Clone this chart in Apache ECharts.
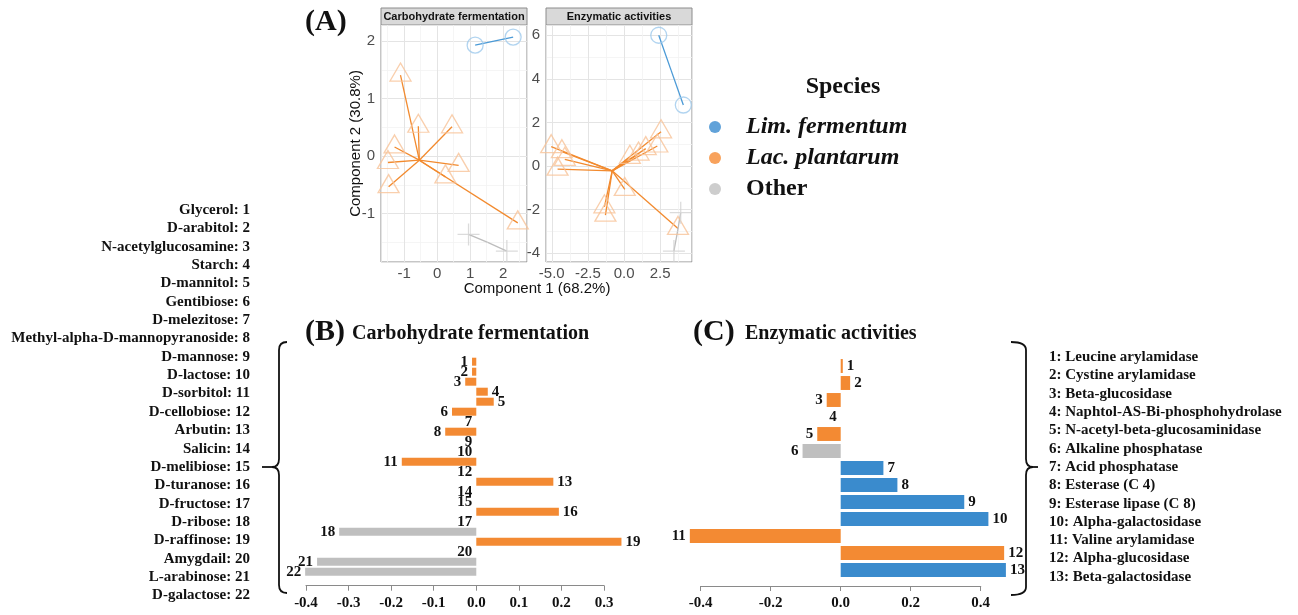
<!DOCTYPE html>
<html>
<head>
<meta charset="utf-8">
<script src="https://cdn.jsdelivr.net/npm/echarts@6/dist/echarts.min.js"></script>
<style>
  html, body { margin: 0; padding: 0; background: #fff; }
  #chart { width: 1298px; height: 615px; }
</style>
</head>
<body>
<div id="chart"></div>
<script>
const serif = "'Times New Roman', 'Liberation Serif', serif";
const sans = "Arial, 'Liberation Sans', sans-serif";

const speciesNames = ["Lim. fermentum", "Lac. plantarum", "Other"];
const barColors = { lim: "#3a8bcd", lac: "#f38a33", other: "#bfbfbf" };

// (A) ordination - carbohydrate fermentation
const carbLim = [[1.15, 1.93], [2.3, 2.07]];
const carbLac = [
  [-1.11, 1.41], [-0.57, 0.52], [0.45, 0.51], [-1.29, 0.16], [-1.49, -0.11],
  [0.65, -0.16], [0.25, -0.36], [-1.47, -0.53], [2.44, -1.16]
];
const carbOther = [[0.95, -1.36], [2.11, -1.65]];
const carbCentroids = [[1.72, 2.0], [-0.54, -0.07], [1.53, -1.5]];

// (A) ordination - enzymatic activities
const enzLim = [[2.4, 6.0], [4.1, 2.8]];
const enzLac = [
  [-5.04, 0.89], [-4.3, 0.66], [-4.1, 0.31], [-4.6, -0.14],
  [2.56, 1.57], [2.3, 0.92], [1.5, 0.8], [1.0, 0.55], [0.4, 0.4],
  [-1.36, -1.87], [-1.29, -2.25], [0.05, -1.07], [3.73, -2.86]
];
const enzOther = [[3.92, -2.14], [3.45, -3.9]];
const enzCentroids = [[3.25, 4.4], [-0.82, -0.22], [3.7, -3.0]];

// (B) carbohydrate fermentation loadings
const carbLabels = [
  "Glycerol", "D-arabitol", "N-acetylglucosamine", "Starch", "D-mannitol", "Gentibiose",
  "D-melezitose", "Methyl-alpha-D-mannopyranoside", "D-mannose", "D-lactose", "D-sorbitol",
  "D-cellobiose", "Arbutin", "Salicin", "D-melibiose", "D-turanose", "D-fructose", "D-ribose",
  "D-raffinose", "Amygdail", "L-arabinose", "D-galactose"
];
const carbValues = [
  -0.01, -0.01, -0.026, 0.027, 0.041, -0.057, 0, -0.073, 0, 0, -0.175,
  0, 0.181, 0, 0, 0.194, 0, -0.322, 0.341, 0, -0.374, -0.402
];
const carbGroup = [
  "lac", "lac", "lac", "lac", "lac", "lac", "lac", "lac", "lac", "lac", "lac",
  "lac", "lac", "lac", "lac", "lac", "lac", "other", "lac", "lac", "other", "other"
];

// (C) enzymatic activity loadings
const enzLabels = [
  "Leucine arylamidase", "Cystine arylamidase", "Beta-glucosidase",
  "Naphtol-AS-Bi-phosphohydrolase", "N-acetyl-beta-glucosaminidase", "Alkaline phosphatase",
  "Acid phosphatase", "Esterase (C 4)", "Esterase lipase (C 8)", "Alpha-galactosidase",
  "Valine arylamidase", "Alpha-glucosidase", "Beta-galactosidase"
];
const enzValues = [0.006, 0.027, -0.04, 0, -0.067, -0.109, 0.122, 0.162, 0.353, 0.422, -0.431, 0.467, 0.472];
const enzGroup = ["lac", "lac", "lac", "lac", "lac", "other", "lim", "lim", "lim", "lim", "lac", "lac", "lim"];

const pointStyles = [
  { symbol: "circle", symbolSize: 16, symbolOffset: [0, 0], itemStyle: { color: "transparent", borderColor: "#9dc9ec", borderWidth: 1.3 } },
  { symbol: "triangle", symbolSize: [21, 18], symbolOffset: [0, -3], itemStyle: { color: "transparent", borderColor: "#f8c398", borderWidth: 1.3 } },
  { symbol: "path://M0,10L20,10M10,0L10,20", symbolSize: 22, symbolOffset: [0, 0], itemStyle: { color: "transparent", borderColor: "#d2d2d2", borderWidth: 1.3 } }
];
const spokeColors = ["#4b9ad6", "#f28a2e", "#bdbdbd"];

function spokes(points, c) {
  return points.map((p) => ({ coords: [c, p] }));
}

const ordSeries = [];
[[carbLim, carbLac, carbOther, carbCentroids], [enzLim, enzLac, enzOther, enzCentroids]].forEach((panel, g) => {
  [0, 1, 2].forEach((s) => {
    ordSeries.push({
      type: "lines",
      coordinateSystem: "cartesian2d",
      xAxisIndex: g,
      yAxisIndex: g,
      silent: true,
      lineStyle: { color: spokeColors[s], width: 1.3, opacity: 1 },
      data: spokes(panel[s], panel[3][s])
    });
    ordSeries.push(Object.assign({
      type: "scatter",
      name: speciesNames[s],
      xAxisIndex: g,
      yAxisIndex: g,
      silent: true,
      data: panel[s]
    }, pointStyles[s]));
  });
});

function barData(values, groups) {
  return values.map((v, i) => ({
    value: v,
    itemStyle: { color: barColors[groups[i]] },
    label: { position: v > 0 ? "right" : "left" }
  }));
}

const barLabel = {
  show: true,
  distance: 4,
  formatter: (p) => String(p.dataIndex + 1),
  fontFamily: serif,
  fontWeight: "bold",
  fontSize: 15,
  color: "#111"
};

const gridLines = { lineStyle: { color: "#e4e4e4", width: 1 } };
const minorLines = { show: true, lineStyle: { color: "#f2f2f2", width: 0.8 } };
const ordLabel = { fontFamily: sans, fontSize: 15, color: "#4d4d4d", showMinLabel: false, showMaxLabel: false };

function ordAxis(g, min, max, step, extra) {
  return Object.assign({
    gridIndex: g,
    type: "value",
    min: min,
    max: max,
    minInterval: step,
    maxInterval: step,
    axisLine: { show: false },
    axisTick: { show: false },
    splitLine: gridLines,
    minorTick: { show: false, splitNumber: 2 },
    minorSplitLine: minorLines
  }, extra);
}

const barAxisStyle = {
  type: "value",
  axisLine: { show: true, lineStyle: { color: "#8a8a8a", width: 1.2 } },
  axisTick: { show: true, length: 5, lineStyle: { color: "#8a8a8a" } },
  splitLine: { show: false },
  axisLabel: { fontFamily: serif, fontWeight: "bold", fontSize: 15, color: "#111", margin: 10, formatter: (v) => v.toFixed(1) }
};

function txt(x, y, text, font, align) {
  return { type: "text", x: x, y: y, style: { text: text, font: font, fill: "#111", textAlign: align, textVerticalAlign: "middle", align: align, verticalAlign: "middle" } };
}
function seg(x1, y1, x2, y2) {
  return { type: "line", shape: { x1: x1, y1: y1, x2: x2, y2: y2 }, style: { stroke: "#111", lineWidth: 1.8 } };
}
function curve(x1, y1, cx, cy, x2, y2) {
  return { type: "bezierCurve", shape: { x1: x1, y1: y1, cpx1: cx, cpy1: cy, x2: x2, y2: y2 }, style: { fill: "none", stroke: "#111", lineWidth: 1.8 } };
}
// curly brace, vertical stem at x, pointing dir (-1 left, 1 right)
function brace(x, top, mid, bottom, dir, arm, tip) {
  return [
    curve(x - dir * arm, top, x, top, x, top + 8),
    seg(x, top + 8, x, mid - 8),
    curve(x, mid - 8, x, mid, x + dir * 7, mid),
    seg(x + dir * 7, mid, x + dir * tip, mid),
    curve(x, mid + 8, x, mid, x + dir * 7, mid),
    seg(x, mid + 8, x, bottom - 8),
    curve(x, bottom - 8, x, bottom, x - dir * arm, bottom)
  ];
}

const graphics = [
  txt(305, 22, "(A)", "bold 30px " + serif, "left"),
  { type: "rect", shape: { x: 381, y: 8, width: 146, height: 17 }, style: { fill: "#d9d9d9", stroke: "#8c8c8c", lineWidth: 1 } },
  txt(454, 16.5, "Carbohydrate fermentation", "bold 11px " + sans, "center"),
  { type: "rect", shape: { x: 546, y: 8, width: 146, height: 17 }, style: { fill: "#d9d9d9", stroke: "#8c8c8c", lineWidth: 1 } },
  txt(619, 16.5, "Enzymatic activities", "bold 11px " + sans, "center"),
  txt(537, 289, "Component 1 (68.2%)", "15px " + sans, "center"),
  txt(843, 87, "Species", "bold 24px " + serif, "center"),
  txt(305, 332, "(B)", "bold 30px " + serif, "left"),
  txt(352, 334, "Carbohydrate fermentation", "bold 20px " + serif, "left"),
  txt(693, 332, "(C)", "bold 30px " + serif, "left"),
  txt(745, 334, "Enzymatic activities", "bold 20px " + serif, "left")
].concat(brace(279, 342, 467, 593, -1, 8, 17), brace(1026, 342, 467, 595, 1, 15, 12));

carbLabels.forEach((name, i) => {
  graphics.push(txt(250, 210 + 18.36 * i, name + ": " + (i + 1), "bold 15px " + serif, "right"));
});
enzLabels.forEach((name, i) => {
  graphics.push(txt(1049, 357.3 + 18.3 * i, (i + 1) + ": " + name, "bold 15px " + serif, "left"));
});

const chart = echarts.init(document.getElementById("chart"));
chart.setOption({
  animation: false,
  backgroundColor: "#fff",
  legend: {
    orient: "vertical",
    left: 704,
    top: 110,
    itemWidth: 12,
    itemHeight: 12,
    itemGap: 7,
    selectedMode: false,
    data: [
      { name: speciesNames[0], icon: "circle", itemStyle: { color: "#3a8bd0", borderWidth: 0 } },
      { name: speciesNames[1], icon: "circle", itemStyle: { color: "#f68b33", borderWidth: 0 } },
      { name: speciesNames[2], icon: "circle", itemStyle: { color: "#c0c0c0", borderWidth: 0 } }
    ],
    formatter: (name) => (name === "Other" ? "{n|" + name + "}" : "{i|" + name + "}"),
    textStyle: {
      fontFamily: serif,
      fontSize: 24,
      fontWeight: "bold",
      color: "#111",
      rich: {
        i: { fontFamily: serif, fontSize: 24, fontWeight: "bold", fontStyle: "italic", color: "#111", padding: [0, 0, 0, 20] },
        n: { fontFamily: serif, fontSize: 24, fontWeight: "bold", color: "#111", padding: [0, 0, 0, 20] }
      }
    }
  },
  grid: [
    { left: 381, top: 25, width: 146, height: 237, show: true, borderColor: "#8c8c8c", borderWidth: 1 },
    { left: 546, top: 25, width: 146, height: 237, show: true, borderColor: "#8c8c8c", borderWidth: 1 },
    { left: 306, top: 356.7, width: 298, height: 220 },
    { left: 700.7, top: 357.5, width: 280, height: 221 }
  ],
  xAxis: [
    ordAxis(0, -1.7, 2.72, 1, { axisLabel: Object.assign({ margin: 4 }, ordLabel) }),
    ordAxis(1, -5.4, 4.7, 2.5, { axisLabel: Object.assign({ margin: 4, formatter: (v) => v.toFixed(1) }, ordLabel) }),
    Object.assign({ gridIndex: 2, min: -0.4, max: 0.3, interval: 0.1, offset: 9 }, barAxisStyle),
    Object.assign({ gridIndex: 3, min: -0.4, max: 0.4, interval: 0.2, offset: 7.5 }, barAxisStyle)
  ],
  yAxis: [
    ordAxis(0, -1.84, 2.28, 1, {
      axisLabel: Object.assign({ margin: 6 }, ordLabel),
      name: "Component 2 (30.8%)",
      nameLocation: "middle",
      nameGap: 18,
      nameMoveOverlap: false,
      nameTextStyle: { fontFamily: sans, fontSize: 15, color: "#111" }
    }),
    ordAxis(1, -4.4, 6.47, 2, { axisLabel: Object.assign({ margin: 6 }, ordLabel) }),
    { gridIndex: 2, type: "category", inverse: true, show: false, data: carbLabels },
    { gridIndex: 3, type: "category", inverse: true, show: false, data: enzLabels }
  ],
  series: ordSeries.concat([
    {
      type: "bar",
      name: "Carbohydrate fermentation",
      xAxisIndex: 2,
      yAxisIndex: 2,
      barCategoryGap: "20%",
      clip: false,
      silent: true,
      label: barLabel,
      data: barData(carbValues, carbGroup)
    },
    {
      type: "bar",
      name: "Enzymatic activities",
      xAxisIndex: 3,
      yAxisIndex: 3,
      barCategoryGap: "18%",
      clip: false,
      silent: true,
      label: barLabel,
      data: barData(enzValues, enzGroup)
    }
  ]),
  graphic: graphics
});
</script>
</body>
</html>
